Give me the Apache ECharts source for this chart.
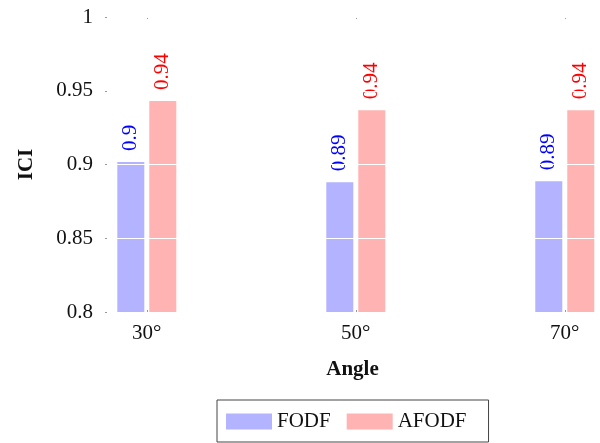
<!DOCTYPE html>
<html>
<head>
<meta charset="utf-8">
<script src="https://cdn.jsdelivr.net/npm/echarts@6/dist/echarts.min.js"></script>
<style>html,body{margin:0;padding:0;background:#fff;}#c{width:600px;height:443px;}</style>
</head>
<body>
<div id="c"></div>
<script>
var angles = [30, 50, 70];
var fodf = [0.9017, 0.888, 0.8886];
var afodf = [0.943, 0.9367, 0.9367];
var yTicks = [0.8, 0.85, 0.9, 0.95, 1];
var seriesNames = ['FODF', 'AFODF'];

var FONT = 'Liberation Serif';
function fmt(v){ return String(parseFloat(v.toFixed(2))); }
function pairs(vals){ return angles.map(function(a,i){ return [a, vals[i]]; }); }

var chart = echarts.init(document.getElementById('c'), null, {renderer:'canvas'});
var tickStyle = {show:true, length:2, inside:true, lineStyle:{color:'#999', width:1}, customValues: angles};
chart.setOption({
  animation:false,
  backgroundColor:'#fff',
  grid:{left:105, top:17, right:0, height:295},
  xAxis:[{
    type:'value', min:26, max:73.37, position:'bottom',
    name:'Angle', nameLocation:'middle', nameGap:47,
    nameTextStyle:{fontFamily:FONT, fontSize:21, fontWeight:'bold', color:'#111'},
    axisLine:{show:false},
    axisTick:tickStyle,
    splitLine:{show:false},
    axisLabel:{customValues: angles, formatter:function(v){return v+'°';}, fontFamily:FONT, fontSize:21, color:'#111', margin:11}
  },{
    type:'value', min:26, max:73.37, position:'top',
    axisLine:{show:false}, axisTick:tickStyle, splitLine:{show:false}, axisLabel:{show:false}
  }],
  yAxis:{
    type:'value', min:0.8, max:1, interval:0.05, z:5,
    name:'ICI', nameLocation:'middle', nameGap:68, nameRotate:90,
    nameTextStyle:{fontFamily:FONT, fontSize:21, fontWeight:'bold', color:'#111'},
    axisLine:{show:false},
    axisTick:{show:true, length:2, inside:true, lineStyle:{color:'#999'}},
    splitLine:{show:true, lineStyle:{color:'#fff', width:1.2}},
    axisLabel:{fontFamily:FONT, fontSize:21, color:'#111', margin:12,
      customValues: yTicks, formatter:function(v){return String(parseFloat(v.toFixed(2)));}}
  },
  legend:{
    data:seriesNames, left:217, top:400, icon:'rect',
    itemWidth:46, itemHeight:16, itemGap:16,
    padding:[11,22,10,9],
    borderColor:'#444', borderWidth:1,
    textStyle:{fontFamily:FONT, fontSize:21, color:'#111'}
  },
  series:[{
    name:seriesNames[0], type:'bar', data:pairs(fodf), barWidth:27, barGap:'18.5%',
    itemStyle:{color:'#b3b3ff'},
    label:{show:true, position:'top', distance:11, rotate:90, align:'left', verticalAlign:'middle',
      color:'#0000ff', fontFamily:FONT, fontSize:21, formatter:function(p){return fmt(p.value[1]);}}
  },{
    name:seriesNames[1], type:'bar', data:pairs(afodf), barWidth:27, barGap:'18.5%',
    itemStyle:{color:'#ffb3b3'},
    label:{show:true, position:'top', distance:11, rotate:90, align:'left', verticalAlign:'middle',
      color:'#ff0000', fontFamily:FONT, fontSize:21, formatter:function(p){return fmt(p.value[1]);}}
  }]
});
</script>
</body>
</html>
